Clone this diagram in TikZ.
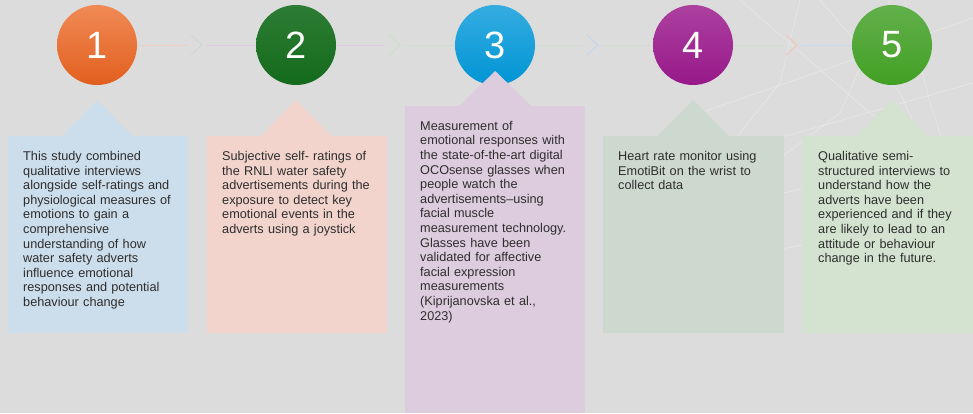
\documentclass[tikz,border=0pt]{standalone}
\usepackage{fontspec}
\setmainfont{Liberation Sans}
\usepackage{xcolor}
\usetikzlibrary{positioning}
\definecolor{BackColor}{HTML}{DCDCDC}
\definecolor{TextColor}{HTML}{2E2E2E}
\definecolor{StudyTop}{HTML}{F08A55}
\definecolor{StudyBottom}{HTML}{E25F1E}
\definecolor{RatingTop}{HTML}{2D7D34}
\definecolor{RatingBottom}{HTML}{146A1C}
\definecolor{GlassesTop}{HTML}{35ACE0}
\definecolor{GlassesBottom}{HTML}{0095D5}
\definecolor{HeartTop}{HTML}{AC409F}
\definecolor{HeartBottom}{HTML}{98198A}
\definecolor{InterviewTop}{HTML}{62B04B}
\definecolor{InterviewBottom}{HTML}{42A024}
\definecolor{StudyFill}{HTML}{CCDDEB}
\definecolor{RatingFill}{HTML}{F2D4CC}
\definecolor{GlassesFill}{HTML}{DDCCDD}
\definecolor{HeartFill}{HTML}{CDD8CF}
\definecolor{InterviewFill}{HTML}{D3E3D0}
\definecolor{SalmonLine}{HTML}{EDCDC4}
\definecolor{PinkLine}{HTML}{E0CCE0}
\definecolor{GreenLine}{HTML}{CEDDCE}
\definecolor{BlueLine}{HTML}{C8D9EC}
\definecolor{GreyMark}{HTML}{D0D9D0}
\definecolor{GreenMark}{HTML}{CCE0CA}
\definecolor{BlueMark}{HTML}{C0D8EE}
\definecolor{SalmonMark}{HTML}{F0C8BC}

\begin{document}
\begin{tikzpicture}[x=1pt, y=1pt,
  numcircle/.style={circle, minimum size=80pt, inner sep=0pt, text=white,
    font=\fontsize{38}{40}\selectfont},
  infobox/.style={rectangle, inner sep=0pt, anchor=north west, minimum height=197pt},
  infotext/.style={inner sep=0pt, text width=156pt, align=left, text=TextColor,
    font=\fontsize{12.7}{14.6}\selectfont},
  link/.style={line width=0.9pt},
  chevron/.style={line width=1.1pt},
  mesh/.style={white, opacity=0.3, line width=0.7pt}]
  \fill[BackColor] (0,0) rectangle (973,413);
  \useasboundingbox (0,0) rectangle (973,413);

  \draw[mesh] (700,300) -- (973,395);
  \draw[mesh] (690,250) -- (973,330);
  \draw[mesh] (700,200) -- (973,265);
  \draw[mesh] (760,160) -- (973,200);
  \draw[mesh] (740,413) -- (870,300) -- (973,235);
  \draw[mesh] (820,413) -- (900,320) -- (960,190);
  \draw[mesh] (905,413) -- (930,310) -- (973,180);
  \draw[mesh] (680,180) -- (760,240) -- (840,300) -- (890,413);
  \draw[mesh] (620,140) -- (700,230) -- (780,330) -- (800,413);

  \coordinate (v1) at (197,368);
  \coordinate (v2) at (395,368);
  \coordinate (v3) at (593,368);
  \coordinate (v4) at (792,368);

  \node[numcircle, top color=StudyTop, bottom color=StudyBottom] (c1) at (97,368) {1};
  \node[numcircle, top color=RatingTop, bottom color=RatingBottom] (c2) at (296,368) {2};
  \node[numcircle, top color=GlassesTop, bottom color=GlassesBottom] (c3) at (495,368) {3};
  \node[numcircle, top color=HeartTop, bottom color=HeartBottom] (c4) at (693,368) {4};
  \node[numcircle, top color=InterviewTop, bottom color=InterviewBottom] (c5) at (892,368) {5};

  \draw[link, SalmonLine, shorten >=10pt] (c1) -- (v1);
  \draw[link, PinkLine, shorten <=9pt] (v1) -- (c2);
  \draw[link, PinkLine, shorten >=10pt] (c2) -- (v2);
  \draw[link, GreenLine, shorten <=9pt] (v2) -- (c3);
  \draw[link, GreenLine, shorten >=10pt] (c3) -- (v3);
  \draw[link, GreenLine, shorten <=9pt] (v3) -- (c4);
  \draw[link, GreenLine, shorten >=10pt] (c4) -- (v4);
  \draw[link, BlueLine, shorten <=9pt] (v4) -- (c5);

  \draw[chevron, GreyMark] (v1) ++(-6,10) -- ++(11,-10) -- ++(-11,-10);
  \draw[chevron, GreenMark] (v2) ++(-6,10) -- ++(11,-10) -- ++(-11,-10);
  \draw[chevron, BlueMark] (v3) ++(-6,10) -- ++(11,-10) -- ++(-11,-10);
  \draw[chevron, SalmonMark] (v4) ++(-6,10) -- ++(11,-10) -- ++(-11,-10);

  \node[infobox, fill=StudyFill, minimum width=180pt] (b1) at (8,277) {};
  \node[infobox, fill=RatingFill, minimum width=180pt] (b2) at (207,277) {};
  \node[infobox, fill=GlassesFill, minimum width=180pt, minimum height=307pt] (b3) at (405,307) {};
  \node[infobox, fill=HeartFill, minimum width=181pt] (b4) at (603,277) {};
  \node[infobox, fill=InterviewFill, minimum width=171pt] (b5) at (802,277) {};

  \fill[StudyFill] (b1.north) ++(-36,0) -- ++(35,36) -- ++(35,-36) -- cycle;
  \fill[RatingFill] (b2.north) ++(-36,0) -- ++(35,36) -- ++(35,-36) -- cycle;
  \fill[GlassesFill] (b3.north) ++(-36,0) -- ++(36,35) -- ++(36,-35) -- cycle;
  \fill[HeartFill] (b4.north) ++(-36,0) -- ++(35.5,36) -- ++(35.5,-36) -- cycle;
  \fill[InterviewFill] (b5.north) ++(-31,0) -- ++(35.5,36) -- ++(35.5,-36) -- cycle;

  \node[infotext, below right=15pt and 15pt of b1.north west] (t1) {This study combined\\
    qualitative interviews\\ alongside self-ratings and\\ physiological measures of\\
    emotions to gain a\\ comprehensive\\ understanding of how\\ water safety adverts\\
    influence emotional\\ responses and potential\\ behaviour change};
  \node[infotext, below right=15pt and 15pt of b2.north west] (t2) {Subjective self- ratings of\\
    the RNLI water safety\\ advertisements during the\\ exposure to detect key\\
    emotional events in the\\ adverts using a joystick};
  \node[infotext, below right=15pt and 15pt of b3.north west] (t3) {Measurement of\\
    emotional responses with\\ the state-of-the-art digital\\ OCOsense glasses when\\
    people watch the\\ advertisements--using\\ facial muscle\\ measurement technology.\\
    Glasses have been\\ validated for affective\\ facial expression\\ measurements\\
    (Kiprijanovska et al.,\\ 2023)};
  \node[infotext, below right=15pt and 15pt of b4.north west] (t4) {Heart rate monitor using\\
    EmotiBit on the wrist to\\ collect data};
  \node[infotext, below right=15pt and 16pt of b5.north west] (t5) {Qualitative semi-\\
    structured interviews to\\ understand how the\\ adverts have been\\
    experienced and if they\\ are likely to lead to an\\ attitude or behaviour\\
    change in the future.};
\end{tikzpicture}
\end{document}
